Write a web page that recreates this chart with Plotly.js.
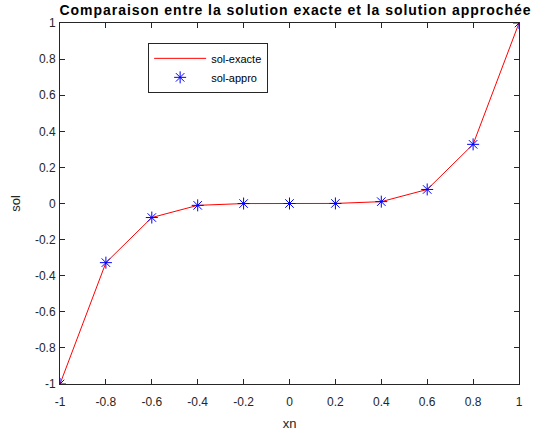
<!DOCTYPE html>
<html>
<head>
<meta charset="utf-8">
<script src="https://cdn.plot.ly/plotly-3.0.1.min.js"></script>
<style>
  html, body { margin: 0; padding: 0; background: #fff; }
  #chart { width: 535px; height: 434px; }
  #chart .gtitle { letter-spacing: 0.95px; }
</style>
</head>
<body>
<div id="chart"></div>
<script>
// Noeuds de discrétisation
const xn = [-1, -0.8, -0.6, -0.4, -0.2, 0, 0.2, 0.4, 0.6, 0.8, 1];
// Solution exacte aux noeuds
const solExacte = [-1, -0.32768, -0.07776, -0.01024, -0.00032, 0, 0.00032, 0.01024, 0.07776, 0.32768, 1];
// Solution approchée aux noeuds
const solAppro = [-1, -0.32768, -0.07776, -0.01024, -0.00032, 0, 0.00032, 0.01024, 0.07776, 0.32768, 1];

// Graduations
const xTickVals = [-1, -0.8, -0.6, -0.4, -0.2, 0, 0.2, 0.4, 0.6, 0.8, 1];
const xTickLabels = ['-1', '-0.8', '-0.6', '-0.4', '-0.2', '0', '0.2', '0.4', '0.6', '0.8', '1'];
const yTickVals = [-1, -0.8, -0.6, -0.4, -0.2, 0, 0.2, 0.4, 0.6, 0.8, 1];
const yTickLabels = ['-1', '-0.8', '-0.6', '-0.4', '-0.2', '0', '0.2', '0.4', '0.6', '0.8', '1'];

const FONT = 'Liberation Sans, Arial, sans-serif';
const AXIS_COLOR = '#262626';

const traces = [
  {
    x: xn, y: solExacte, name: 'sol-exacte',
    type: 'scatter', mode: 'lines',
    line: { color: 'rgb(255,0,0)', width: 1 }
  },
  {
    x: xn, y: solAppro, name: 'sol-appro',
    type: 'scatter', mode: 'markers',
    marker: { symbol: 'asterisk-open', size: 10, color: 'rgb(0,0,255)',
              line: { color: 'rgb(0,0,255)', width: 1 } }
  }
];

function axis(vals, labels, titleText, standoff, labelStandoff) {
  return {
    range: [-1, 1],
    tickmode: 'array', tickvals: vals, ticktext: labels,
    ticks: 'inside', ticklen: 5, tickwidth: 1, tickcolor: AXIS_COLOR,
    ticklabelstandoff: labelStandoff,
    showline: true, linecolor: AXIS_COLOR, linewidth: 1, mirror: 'ticks',
    showgrid: false, zeroline: false,
    tickfont: { family: FONT, size: 12, color: AXIS_COLOR },
    title: { text: titleText, font: { family: FONT, size: 13, color: AXIS_COLOR }, standoff: standoff },
    fixedrange: true
  };
}

const layout = {
  width: 535, height: 434,
  margin: { l: 60, r: 16, t: 23, b: 50 },
  paper_bgcolor: '#fff', plot_bgcolor: '#fff',
  title: {
    text: '<b>Comparaison entre la solution exacte et la solution approchée</b>',
    font: { family: FONT, size: 14, color: '#000' },
    x: 0.513, xref: 'paper', xanchor: 'center',
    y: 1 - 10 / 434, yref: 'container', yanchor: 'middle'
  },
  xaxis: axis(xTickVals, xTickLabels, 'xn', 10, 7),
  yaxis: axis(yTickVals, yTickLabels, 'sol', 11, 1),
  showlegend: true,
  legend: {
    x: 0.192, y: 0.945, xanchor: 'left', yanchor: 'top',
    bgcolor: '#fff', bordercolor: AXIS_COLOR, borderwidth: 1,
    font: { family: FONT, size: 11, color: '#000' },
    tracegroupgap: 0, itemwidth: 52
  }
};

Plotly.newPlot('chart', traces, layout, { staticPlot: true, displayModeBar: false });
</script>
</body>
</html>
